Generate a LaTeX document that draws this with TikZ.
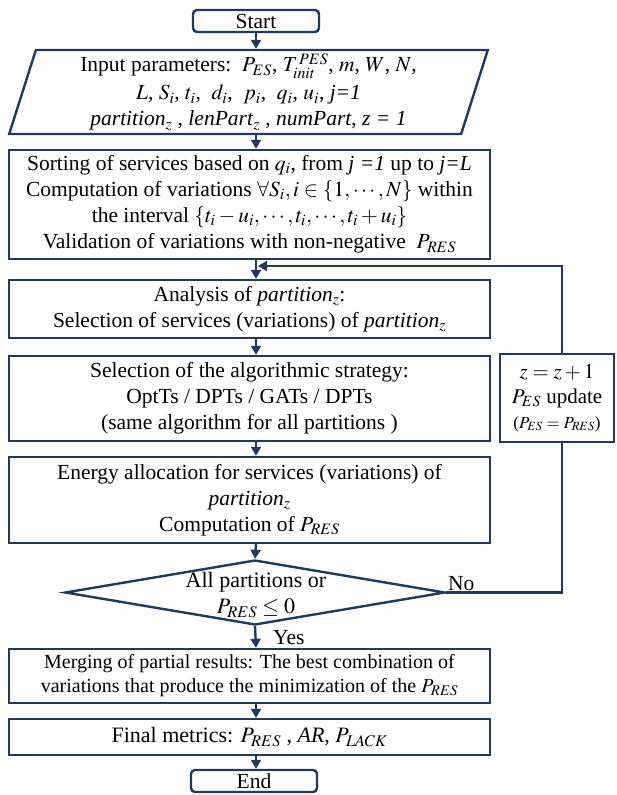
\documentclass[tikz,border=0pt]{standalone}
\usepackage{amssymb}
\usepackage{mathptmx}
\usepackage{fontspec}
\setmainfont{Liberation Serif}
\usetikzlibrary{shapes.geometric,arrows.meta}
\definecolor{navy}{RGB}{31,56,100}

\begin{document}
\begin{tikzpicture}[x=1pt,y=-1pt,
    every node/.style={font=\fontsize{21.5}{26}\selectfont},
    box/.style={draw=navy,line width=2.4pt,rectangle,minimum width=481pt,align=center,inner sep=0pt},
    term/.style={draw=navy,line width=2.4pt,rounded corners=4pt,minimum width=126pt,minimum height=22pt,inner sep=0pt},
    arr/.style={draw=navy,line width=2.4pt,-{Triangle[length=9pt,width=10pt]}},
    line/.style={draw=navy,line width=2.4pt}]
  \useasboundingbox (0,0) rectangle (616,795);
  \coordinate (axis) at (256,0);
  \coordinate (loopx) at (562,0);
  \coordinate (back) at (258,266);

  \node[term] (start) at (256,21) {Start};
  \node[draw=navy,line width=2.4pt,trapezium,trapezium left angle=74.7,trapezium right angle=105.3,
        trapezium stretches=true,minimum width=479pt,minimum height=84pt,align=center,inner sep=0pt]
    (input) at (248.5,92) {Input parameters:\ \ $P_{ES}$, $T_{init}^{\,PES}$, $m$, $W$, $N$,\\[2pt]
      $L$, $S_i$, $t_i$,\ \ $d_i$,\ \ $p_i$,\ \ $q_i$, $u_i$, \textit{j=1}\\
      \textit{partition}$_z$ , \textit{lenPart}$_z$ , \textit{numPart}, \textit{z = 1}};
  \node[box,minimum height=109pt] (sort) at (249.5,204.5)
    {Sorting of services based on $q_i$, from \textit{j =1} up to \textit{j=L}\\
     Computation of variations $\forall S_i, i\in\{1,\cdots,N\}$ within\\
     the interval $\{t_i-u_i,\cdots,t_i,\cdots,t_i+u_i\}$\\
     Validation of variations with non-negative\ \ $P_{RES}$};
  \node[box,minimum height=58pt] (anal) at (249.5,309)
    {Analysis of \textit{partition}$_z$:\\
     Selection of services (variations) of \textit{partition}$_z$};
  \node[box,minimum height=85pt] (strat) at (249.5,398.5)
    {Selection of the algorithmic strategy:\\
     OptTs / DPTs / GATs / DPTs\\
     (same algorithm for all partitions )};
  \node[box,minimum height=86pt] (alloc) at (249.5,500)
    {Energy allocation for services (variations) of\\
     \textit{partition}$_z$\\
     Computation of $P_{RES}$};
  \node[draw=navy,line width=2.4pt,diamond,minimum width=380pt,minimum height=65pt,inner sep=0pt]
    (dec) at (255,592.5) {};
  \node[align=center,font=\fontsize{22}{26}\selectfont] (dectxt) at (256,595)
    {All partitions or\\$P_{RES}\leq 0$};
  \node[box,minimum height=54pt,font=\fontsize{20}{24}\selectfont] (merge) at (249.5,676)
    {Merging of partial results: The best combination of\\
     variations that produce the minimization of the $P_{RES}$};
  \node[box,minimum height=36pt,font=\fontsize{22}{26}\selectfont] (final) at (249.5,737)
    {Final metrics: $P_{RES}$ , \textit{AR}, $P_{LACK}$};
  \node[term] (end) at (254,781) {End};
  \node[draw=navy,line width=2.4pt,minimum width=114pt,minimum height=88pt,align=center,inner sep=0pt,
        font=\fontsize{21}{25}\selectfont] (update) at (557,398)
    {$z=z+1$\\$P_{ES}$ update\\{\fontsize{17}{19}\selectfont($P_{ES}=P_{RES}$)}};

  \node[anchor=south west,inner sep=1pt] (no) at (447,592) {No};
  \node[anchor=west,inner sep=1pt] (yes) at (272,638) {Yes};

  \draw[arr] (axis |- start.south) -- (axis |- input.north);
  \draw[arr] (axis |- input.south) -- (axis |- sort.north);
  \draw[arr] (axis |- sort.south) -- (axis |- anal.north);
  \draw[arr] (axis |- anal.south) -- (axis |- strat.north);
  \draw[arr] (axis |- strat.south) -- (axis |- alloc.north);
  \draw[arr] (axis |- alloc.south) -- (dec.north);
  \draw[arr] (dec.south) -- (axis |- merge.north);
  \draw[arr] (axis |- merge.south) -- (axis |- final.north);
  \draw[arr] (axis |- final.south) -- (axis |- end.north);
  \draw[line] (dec.east) -- (loopx |- dec.east) -- (loopx |- update.south);
  \draw[arr] (loopx |- update.north) |- (back);
\end{tikzpicture}
\end{document}
